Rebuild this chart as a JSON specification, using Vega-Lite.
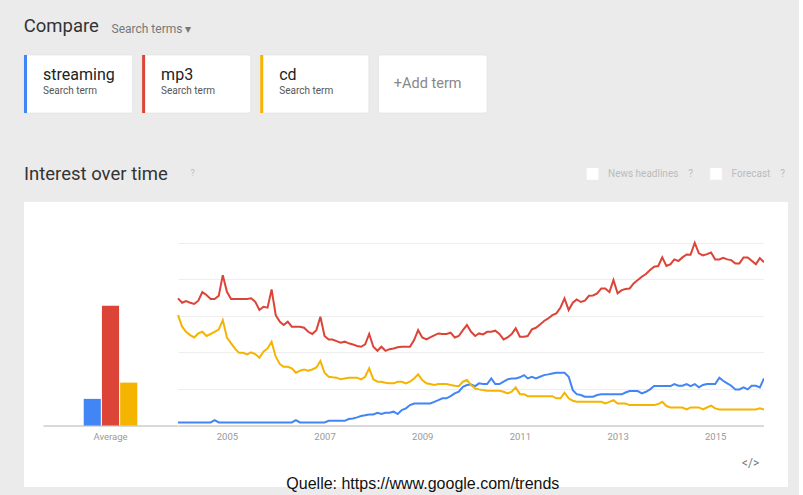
{
  "$schema": "https://vega.github.io/schema/vega-lite/v6.json",
  "background": "#ebebeb",
  "padding": {"left": 23, "top": 16, "right": 11, "bottom": 3},
  "config": {"font": "Roboto", "view": {"stroke": null}},
  "title": {"text": "Quelle: https://www.google.com/trends", "orient": "bottom", "anchor": "middle", "font": "Liberation Sans", "fontSize": 16, "fontWeight": "normal", "color": "#111111", "offset": 0, "dy": -11, "dx": 17},
  "bounds": "flush",
  "spacing": 89,
  "datasets": {
    "cards": [
      {"term": "streaming", "sub": "Search term"},
      {"term": "mp3", "sub": "Search term"},
      {"term": "cd", "sub": "Search term"},
      {"term": "+Add term", "sub": ""}
    ],
    "avg": [
      {"label": "Average", "term": "streaming", "value": 14.6},
      {"label": "Average", "term": "mp3", "value": 65.5},
      {"label": "Average", "term": "cd", "value": 23.5}
    ],
    "trend": [
      {"month": "2004-01-01", "streaming": 1.7, "mp3": 69.6, "cd": 60.4},
      {"month": "2004-02-01", "streaming": 1.7, "mp3": 67.2, "cd": 54.1},
      {"month": "2004-03-01", "streaming": 1.7, "mp3": 68.1, "cd": 51.3},
      {"month": "2004-04-01", "streaming": 1.7, "mp3": 67.2, "cd": 49.5},
      {"month": "2004-05-01", "streaming": 1.7, "mp3": 66.5, "cd": 48.2},
      {"month": "2004-06-01", "streaming": 1.7, "mp3": 68.3, "cd": 50.4},
      {"month": "2004-07-01", "streaming": 1.7, "mp3": 73.0, "cd": 51.3},
      {"month": "2004-08-01", "streaming": 1.7, "mp3": 71.4, "cd": 49.0},
      {"month": "2004-09-01", "streaming": 1.7, "mp3": 69.2, "cd": 50.1},
      {"month": "2004-10-01", "streaming": 3.0, "mp3": 69.2, "cd": 51.3},
      {"month": "2004-11-01", "streaming": 1.7, "mp3": 71.0, "cd": 52.6},
      {"month": "2004-12-01", "streaming": 1.7, "mp3": 82.3, "cd": 57.7},
      {"month": "2005-01-01", "streaming": 1.7, "mp3": 73.2, "cd": 48.2},
      {"month": "2005-02-01", "streaming": 1.7, "mp3": 69.2, "cd": 45.0},
      {"month": "2005-03-01", "streaming": 1.7, "mp3": 69.2, "cd": 42.2},
      {"month": "2005-04-01", "streaming": 1.7, "mp3": 69.2, "cd": 39.8},
      {"month": "2005-05-01", "streaming": 1.7, "mp3": 69.2, "cd": 39.8},
      {"month": "2005-06-01", "streaming": 1.7, "mp3": 69.2, "cd": 38.9},
      {"month": "2005-07-01", "streaming": 1.7, "mp3": 69.6, "cd": 40.0},
      {"month": "2005-08-01", "streaming": 1.7, "mp3": 67.7, "cd": 39.1},
      {"month": "2005-09-01", "streaming": 1.7, "mp3": 63.2, "cd": 37.1},
      {"month": "2005-10-01", "streaming": 1.7, "mp3": 65.0, "cd": 40.4},
      {"month": "2005-11-01", "streaming": 1.7, "mp3": 64.5, "cd": 42.2},
      {"month": "2005-12-01", "streaming": 1.7, "mp3": 74.5, "cd": 45.9},
      {"month": "2006-01-01", "streaming": 1.7, "mp3": 60.4, "cd": 37.7},
      {"month": "2006-02-01", "streaming": 1.7, "mp3": 56.8, "cd": 33.6},
      {"month": "2006-03-01", "streaming": 1.7, "mp3": 55.0, "cd": 32.2},
      {"month": "2006-04-01", "streaming": 1.7, "mp3": 56.8, "cd": 32.2},
      {"month": "2006-05-01", "streaming": 1.7, "mp3": 54.1, "cd": 31.3},
      {"month": "2006-06-01", "streaming": 3.0, "mp3": 54.1, "cd": 28.9},
      {"month": "2006-07-01", "streaming": 1.7, "mp3": 54.1, "cd": 30.0},
      {"month": "2006-08-01", "streaming": 1.7, "mp3": 53.5, "cd": 30.7},
      {"month": "2006-09-01", "streaming": 1.7, "mp3": 51.3, "cd": 30.0},
      {"month": "2006-10-01", "streaming": 1.7, "mp3": 50.1, "cd": 30.7},
      {"month": "2006-11-01", "streaming": 1.7, "mp3": 52.2, "cd": 31.8},
      {"month": "2006-12-01", "streaming": 1.7, "mp3": 59.5, "cd": 35.3},
      {"month": "2007-01-01", "streaming": 1.7, "mp3": 49.0, "cd": 28.9},
      {"month": "2007-02-01", "streaming": 2.6, "mp3": 47.1, "cd": 26.7},
      {"month": "2007-03-01", "streaming": 2.6, "mp3": 47.1, "cd": 26.4},
      {"month": "2007-04-01", "streaming": 2.6, "mp3": 46.2, "cd": 26.2},
      {"month": "2007-05-01", "streaming": 2.6, "mp3": 45.3, "cd": 25.3},
      {"month": "2007-06-01", "streaming": 2.6, "mp3": 45.9, "cd": 25.8},
      {"month": "2007-07-01", "streaming": 3.6, "mp3": 45.0, "cd": 26.2},
      {"month": "2007-08-01", "streaming": 3.9, "mp3": 44.4, "cd": 26.2},
      {"month": "2007-09-01", "streaming": 4.5, "mp3": 43.5, "cd": 26.2},
      {"month": "2007-10-01", "streaming": 5.2, "mp3": 43.1, "cd": 25.3},
      {"month": "2007-11-01", "streaming": 5.6, "mp3": 44.4, "cd": 26.7},
      {"month": "2007-12-01", "streaming": 6.1, "mp3": 50.1, "cd": 31.3},
      {"month": "2008-01-01", "streaming": 6.1, "mp3": 43.1, "cd": 25.3},
      {"month": "2008-02-01", "streaming": 7.0, "mp3": 40.9, "cd": 24.0},
      {"month": "2008-03-01", "streaming": 6.3, "mp3": 43.1, "cd": 24.0},
      {"month": "2008-04-01", "streaming": 7.0, "mp3": 40.9, "cd": 23.4},
      {"month": "2008-05-01", "streaming": 7.0, "mp3": 41.8, "cd": 23.1},
      {"month": "2008-06-01", "streaming": 7.6, "mp3": 42.2, "cd": 23.1},
      {"month": "2008-07-01", "streaming": 6.3, "mp3": 42.8, "cd": 24.0},
      {"month": "2008-08-01", "streaming": 8.5, "mp3": 43.1, "cd": 24.0},
      {"month": "2008-09-01", "streaming": 9.4, "mp3": 43.1, "cd": 23.1},
      {"month": "2008-10-01", "streaming": 11.2, "mp3": 43.1, "cd": 24.0},
      {"month": "2008-11-01", "streaming": 12.1, "mp3": 46.8, "cd": 25.8},
      {"month": "2008-12-01", "streaming": 12.1, "mp3": 52.2, "cd": 28.0},
      {"month": "2009-01-01", "streaming": 12.1, "mp3": 48.2, "cd": 24.9},
      {"month": "2009-02-01", "streaming": 12.1, "mp3": 47.1, "cd": 23.1},
      {"month": "2009-03-01", "streaming": 12.1, "mp3": 48.2, "cd": 22.7},
      {"month": "2009-04-01", "streaming": 13.0, "mp3": 49.3, "cd": 22.2},
      {"month": "2009-05-01", "streaming": 13.9, "mp3": 50.4, "cd": 22.7},
      {"month": "2009-06-01", "streaming": 14.9, "mp3": 50.1, "cd": 22.7},
      {"month": "2009-07-01", "streaming": 14.9, "mp3": 50.1, "cd": 22.7},
      {"month": "2009-08-01", "streaming": 16.1, "mp3": 50.8, "cd": 22.2},
      {"month": "2009-09-01", "streaming": 17.6, "mp3": 48.2, "cd": 21.8},
      {"month": "2009-10-01", "streaming": 18.5, "mp3": 49.0, "cd": 21.6},
      {"month": "2009-11-01", "streaming": 21.2, "mp3": 52.2, "cd": 24.0},
      {"month": "2009-12-01", "streaming": 22.2, "mp3": 55.0, "cd": 24.9},
      {"month": "2010-01-01", "streaming": 22.5, "mp3": 51.3, "cd": 22.2},
      {"month": "2010-02-01", "streaming": 21.6, "mp3": 49.0, "cd": 20.3},
      {"month": "2010-03-01", "streaming": 23.1, "mp3": 50.4, "cd": 19.8},
      {"month": "2010-04-01", "streaming": 22.7, "mp3": 49.9, "cd": 19.4},
      {"month": "2010-05-01", "streaming": 22.7, "mp3": 51.3, "cd": 19.1},
      {"month": "2010-06-01", "streaming": 25.8, "mp3": 51.3, "cd": 19.1},
      {"month": "2010-07-01", "streaming": 22.7, "mp3": 51.9, "cd": 19.1},
      {"month": "2010-08-01", "streaming": 22.7, "mp3": 50.1, "cd": 19.1},
      {"month": "2010-09-01", "streaming": 24.0, "mp3": 47.1, "cd": 18.5},
      {"month": "2010-10-01", "streaming": 25.3, "mp3": 48.2, "cd": 17.6},
      {"month": "2010-11-01", "streaming": 25.8, "mp3": 50.1, "cd": 18.5},
      {"month": "2010-12-01", "streaming": 25.8, "mp3": 53.2, "cd": 20.9},
      {"month": "2011-01-01", "streaming": 26.4, "mp3": 48.6, "cd": 17.2},
      {"month": "2011-02-01", "streaming": 27.6, "mp3": 48.6, "cd": 17.2},
      {"month": "2011-03-01", "streaming": 25.8, "mp3": 49.0, "cd": 16.1},
      {"month": "2011-04-01", "streaming": 26.7, "mp3": 52.6, "cd": 16.1},
      {"month": "2011-05-01", "streaming": 25.8, "mp3": 53.5, "cd": 16.1},
      {"month": "2011-06-01", "streaming": 26.7, "mp3": 55.3, "cd": 16.1},
      {"month": "2011-07-01", "streaming": 27.6, "mp3": 57.2, "cd": 16.1},
      {"month": "2011-08-01", "streaming": 28.0, "mp3": 58.6, "cd": 16.1},
      {"month": "2011-09-01", "streaming": 28.5, "mp3": 60.4, "cd": 16.1},
      {"month": "2011-10-01", "streaming": 28.9, "mp3": 61.4, "cd": 14.9},
      {"month": "2011-11-01", "streaming": 28.9, "mp3": 64.6, "cd": 14.9},
      {"month": "2011-12-01", "streaming": 28.9, "mp3": 69.6, "cd": 18.0},
      {"month": "2012-01-01", "streaming": 26.7, "mp3": 63.2, "cd": 14.9},
      {"month": "2012-02-01", "streaming": 19.4, "mp3": 67.2, "cd": 13.6},
      {"month": "2012-03-01", "streaming": 17.2, "mp3": 69.0, "cd": 13.0},
      {"month": "2012-04-01", "streaming": 16.7, "mp3": 67.6, "cd": 13.0},
      {"month": "2012-05-01", "streaming": 15.8, "mp3": 68.3, "cd": 13.0},
      {"month": "2012-06-01", "streaming": 15.8, "mp3": 71.0, "cd": 13.0},
      {"month": "2012-07-01", "streaming": 15.8, "mp3": 71.2, "cd": 13.0},
      {"month": "2012-08-01", "streaming": 16.7, "mp3": 72.3, "cd": 13.0},
      {"month": "2012-09-01", "streaming": 17.1, "mp3": 75.0, "cd": 13.0},
      {"month": "2012-10-01", "streaming": 17.1, "mp3": 75.0, "cd": 12.1},
      {"month": "2012-11-01", "streaming": 17.1, "mp3": 73.0, "cd": 13.0},
      {"month": "2012-12-01", "streaming": 17.1, "mp3": 79.6, "cd": 13.9},
      {"month": "2013-01-01", "streaming": 17.1, "mp3": 72.3, "cd": 12.1},
      {"month": "2013-02-01", "streaming": 17.1, "mp3": 74.1, "cd": 12.1},
      {"month": "2013-03-01", "streaming": 18.1, "mp3": 74.7, "cd": 12.1},
      {"month": "2013-04-01", "streaming": 18.9, "mp3": 75.0, "cd": 11.2},
      {"month": "2013-05-01", "streaming": 18.9, "mp3": 77.8, "cd": 11.2},
      {"month": "2013-06-01", "streaming": 18.9, "mp3": 79.6, "cd": 11.2},
      {"month": "2013-07-01", "streaming": 17.6, "mp3": 81.4, "cd": 11.2},
      {"month": "2013-08-01", "streaming": 18.5, "mp3": 82.9, "cd": 11.2},
      {"month": "2013-09-01", "streaming": 19.8, "mp3": 85.1, "cd": 11.2},
      {"month": "2013-10-01", "streaming": 21.6, "mp3": 86.9, "cd": 11.2},
      {"month": "2013-11-01", "streaming": 21.6, "mp3": 87.3, "cd": 11.8},
      {"month": "2013-12-01", "streaming": 21.6, "mp3": 92.0, "cd": 13.0},
      {"month": "2014-01-01", "streaming": 21.6, "mp3": 87.3, "cd": 10.7},
      {"month": "2014-02-01", "streaming": 21.6, "mp3": 88.3, "cd": 9.9},
      {"month": "2014-03-01", "streaming": 22.7, "mp3": 90.9, "cd": 9.9},
      {"month": "2014-04-01", "streaming": 21.8, "mp3": 90.0, "cd": 9.9},
      {"month": "2014-05-01", "streaming": 21.8, "mp3": 92.0, "cd": 9.9},
      {"month": "2014-06-01", "streaming": 22.7, "mp3": 93.6, "cd": 8.8},
      {"month": "2014-07-01", "streaming": 21.6, "mp3": 93.5, "cd": 9.9},
      {"month": "2014-08-01", "streaming": 22.7, "mp3": 100, "cd": 9.9},
      {"month": "2014-09-01", "streaming": 20.9, "mp3": 94.2, "cd": 9.9},
      {"month": "2014-10-01", "streaming": 22.2, "mp3": 93.1, "cd": 8.8},
      {"month": "2014-11-01", "streaming": 22.7, "mp3": 93.8, "cd": 9.9},
      {"month": "2014-12-01", "streaming": 22.7, "mp3": 94.7, "cd": 10.9},
      {"month": "2015-01-01", "streaming": 22.7, "mp3": 90.9, "cd": 9.4},
      {"month": "2015-02-01", "streaming": 26.2, "mp3": 90.9, "cd": 8.8},
      {"month": "2015-03-01", "streaming": 24.5, "mp3": 91.8, "cd": 8.8},
      {"month": "2015-04-01", "streaming": 23.1, "mp3": 90.9, "cd": 8.8},
      {"month": "2015-05-01", "streaming": 21.8, "mp3": 90.5, "cd": 8.8},
      {"month": "2015-06-01", "streaming": 19.8, "mp3": 88.7, "cd": 8.8},
      {"month": "2015-07-01", "streaming": 19.8, "mp3": 88.7, "cd": 8.8},
      {"month": "2015-08-01", "streaming": 20.9, "mp3": 92.0, "cd": 8.8},
      {"month": "2015-09-01", "streaming": 19.8, "mp3": 92.0, "cd": 8.8},
      {"month": "2015-10-01", "streaming": 21.8, "mp3": 90.2, "cd": 8.8},
      {"month": "2015-11-01", "streaming": 21.8, "mp3": 88.2, "cd": 8.8},
      {"month": "2015-12-01", "streaming": 20.9, "mp3": 91.6, "cd": 9.4},
      {"month": "2016-01-01", "streaming": 25.8, "mp3": 89.3, "cd": 8.8}
    ]
  },
  "vconcat": [
    {
      "width": 463,
      "height": 58,
      "title": {"text": "Compare", "anchor": "start", "fontSize": 18.5, "fontWeight": "normal", "color": "#333333", "offset": 0, "dy": 12.6},
      "data": {"name": "cards"},
      "encoding": {
        "x": {"field": "term", "type": "nominal", "scale": {"domain": ["streaming", "mp3", "cd", "+Add term"], "paddingInner": 0.08, "paddingOuter": 0},
              "axis": {"orient": "top", "labels": false, "ticks": false, "domain": false, "grid": false, "title": "Search terms \u25be", "titleAnchor": "start", "titleAlign": "left", "titleX": 87, "titleY": -22.5, "titleBaseline": "alphabetic", "titleFontSize": 12, "titleFontWeight": "normal", "titleColor": "#777777"}}
      },
      "layer": [
        {"mark": {"type": "rect", "fill": "white", "cornerRadius": 2, "stroke": "#dddddd", "strokeWidth": 0.6}},
        {
          "transform": [{"filter": "datum.term !== '+Add term'"}],
          "mark": {"type": "rule", "strokeWidth": 3, "xOffset": 1.5},
          "encoding": {
            "x": {"field": "term", "type": "nominal", "bandPosition": 0},
            "color": {"field": "term", "type": "nominal", "scale": {"domain": ["streaming", "mp3", "cd"], "range": ["#4285f4", "#db4437", "#f4b400"]}, "legend": null}
          }
        },
        {
          "transform": [{"filter": "datum.term !== '+Add term'"}],
          "mark": {"type": "text", "align": "left", "dx": 19, "dy": -9, "fontSize": 16, "color": "#222222"},
          "encoding": {"x": {"field": "term", "type": "nominal", "bandPosition": 0}, "text": {"field": "term"}}
        },
        {
          "transform": [{"filter": "datum.term !== '+Add term'"}],
          "mark": {"type": "text", "align": "left", "dx": 19, "dy": 7, "fontSize": 10, "color": "#555555"},
          "encoding": {"x": {"field": "term", "type": "nominal", "bandPosition": 0}, "text": {"field": "sub"}}
        },
        {
          "transform": [{"filter": "datum.term === '+Add term'"}],
          "mark": {"type": "text", "dx": -5, "dy": 0, "fontSize": 14.5, "color": "#888888"},
          "encoding": {"text": {"field": "term"}}
        }
      ]
    },
    {
      "spacing": 0,
      "bounds": "flush",
      "hconcat": [
        {
          "width": 19,
          "height": 285,
          "view": {"fill": "white", "stroke": null},
          "title": {"text": "Interest over time", "anchor": "start", "fontSize": 18.5, "fontWeight": "normal", "color": "#333333", "offset": 18.5, "limit": 400},
          "data": {"values": [{}]},
          "mark": {"type": "point", "opacity": 0},
          "encoding": {}
        },
        {
          "width": 135,
          "height": 285,
          "view": {"fill": "white", "stroke": null},
          "title": {"text": "?", "anchor": "start", "dx": 147.5, "fontSize": 9, "fontWeight": "normal", "color": "#bbbbbb", "offset": 23.8},
          "data": {"name": "avg"},
          "mark": {"type": "bar"},
          "encoding": {
            "x": {"field": "label", "type": "nominal", "scale": {"paddingInner": 0, "paddingOuter": 0.76}, "axis": {"labelColor": "#999999", "labelFontSize": 9.5, "labelAngle": 0, "ticks": false, "domainColor": "#cccccc", "domainWidth": 1.5, "offset": -61.5, "labelPadding": 6, "title": null}},
            "xOffset": {"field": "term", "type": "nominal", "scale": {"domain": ["streaming", "mp3", "cd"], "paddingInner": 0.06, "paddingOuter": 0}},
            "y": {"field": "value", "type": "quantitative", "scale": {"domain": [-33.6, 122.3], "nice": false, "zero": false}, "axis": null},
            "y2": {"datum": 0},
            "color": {"field": "term", "type": "nominal", "scale": {"domain": ["streaming", "mp3", "cd"], "range": ["#4285f4", "#db4437", "#f4b400"]}, "legend": null}
          }
        },
        {
          "width": 586,
          "height": 285,
          "view": {"fill": "white", "stroke": null},
          "title": {"text": "News headlines\u00a0\u00a0\u00a0\u00a0?", "anchor": "end", "dx": -75, "dy": 17.5, "fontSize": 10, "fontWeight": "normal", "color": "#bbbbbb", "offset": 0, "limit": 400},
          "data": {"name": "trend"},
          "transform": [{"fold": ["streaming", "mp3", "cd"], "as": ["term", "value"]}],
          "mark": {"type": "line", "strokeWidth": 2},
          "encoding": {
            "x": {
              "field": "month", "type": "temporal",
              "scale": {"type": "utc", "domain": [{"year": 2004, "month": 1, "date": 1, "utc": true}, {"year": 2016, "month": 1, "date": 1, "utc": true}]},
              "axis": {
                "values": [
                  {"year": 2005, "month": 1, "date": 1, "utc": true},
                  {"year": 2007, "month": 1, "date": 1, "utc": true},
                  {"year": 2009, "month": 1, "date": 1, "utc": true},
                  {"year": 2011, "month": 1, "date": 1, "utc": true},
                  {"year": 2013, "month": 1, "date": 1, "utc": true},
                  {"year": 2015, "month": 1, "date": 1, "utc": true}
                ],
                "format": "%Y", "labelColor": "#999999", "labelFontSize": 9.5, "ticks": false, "grid": false,
                "domainColor": "#cccccc", "domainWidth": 1.5, "offset": -61.5, "labelPadding": 6,
                "title": "</>", "titleX": 572, "titleAlign": "center", "titleColor": "#777777", "titleFontSize": 12, "titleFontWeight": "normal", "titlePadding": 16
              }
            },
            "y": {"field": "value", "type": "quantitative", "scale": {"domain": [-33.6, 122.3], "nice": false, "zero": false},
                  "axis": {"values": [20, 40, 60, 80, 100], "grid": true, "gridColor": "#eeeeee", "domain": false, "ticks": false, "labels": false,
                           "title": "\u25a0", "titleAngle": 0, "titleX": 414, "titleY": -22, "titleAlign": "center", "titleBaseline": "alphabetic", "titleFontSize": 24, "titleFontWeight": "normal", "titleColor": "#ffffff"}},
            "color": {"field": "term", "type": "nominal", "scale": {"domain": ["streaming", "mp3", "cd"], "range": ["#4285f4", "#db4437", "#f4b400"]}, "legend": null}
          }
        },
        {
          "width": 24,
          "height": 285,
          "view": {"fill": "white", "stroke": null},
          "title": {"text": "Forecast\u00a0\u00a0\u00a0\u00a0?", "anchor": "end", "dx": -3, "dy": 17.5, "fontSize": 10, "fontWeight": "normal", "color": "#bbbbbb", "offset": 0, "limit": 400},
          "data": {"values": [{}]},
          "mark": {"type": "point", "opacity": 0},
          "encoding": {
            "y": {"datum": 0, "type": "quantitative",
                  "axis": {"labels": false, "ticks": false, "domain": false, "grid": false,
                           "title": "\u25a0", "titleAngle": 0, "titleX": -48.5, "titleY": -22, "titleAlign": "center", "titleBaseline": "alphabetic", "titleFontSize": 24, "titleFontWeight": "normal", "titleColor": "#ffffff"}}
          }
        }
      ]
    }
  ]
}
